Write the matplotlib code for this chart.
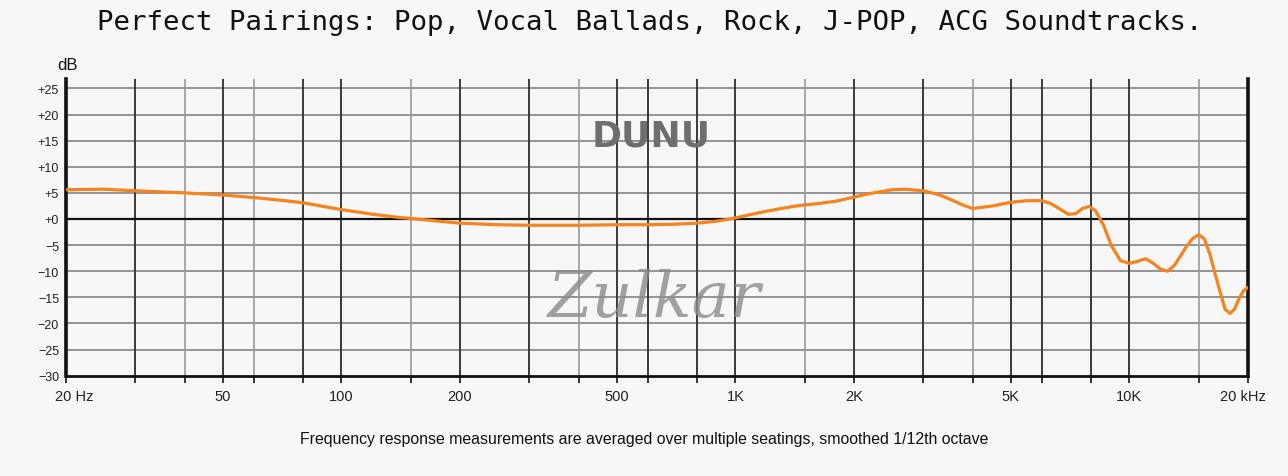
import matplotlib
matplotlib.use("Agg")
import matplotlib.pyplot as plt
import matplotlib.transforms as mtransforms

# frequency response (Hz, dB)
freq = [20, 25, 30, 40, 50, 60, 70, 80, 90, 100, 120, 140, 150, 170, 200, 250, 300, 400,
        500, 600, 700, 800, 900, 1000, 1100, 1200, 1400, 1500, 1600, 1800, 2000, 2200,
        2500, 2700, 3000, 3300, 3500, 3800, 4000, 4500, 5000, 5500, 6000, 6300, 6600,
        7000, 7300, 7600, 7900, 8200, 8600, 9000, 9500, 10000, 10500, 11000, 11500, 12000,
        12500, 13000, 13500, 14000, 14500, 15000, 15500, 16000, 16500, 17000, 17500,
        18000, 18500, 19000, 19500, 20000]
db = [5.6, 5.7, 5.4, 5.0, 4.6, 4.1, 3.6, 3.1, 2.4, 1.8, 0.9, 0.3, 0.1, -0.3, -0.8, -1.1,
      -1.2, -1.2, -1.1, -1.1, -1.0, -0.8, -0.4, 0.2, 0.9, 1.5, 2.4, 2.7, 2.9, 3.4, 4.2,
      4.9, 5.6, 5.7, 5.4, 4.6, 3.8, 2.6, 2.0, 2.5, 3.2, 3.5, 3.5, 3.0, 2.1, 0.9, 1.0,
      2.0, 2.4, 1.6, -1.2, -5.1, -8.0, -8.5, -8.1, -7.6, -8.5, -9.6, -10.0, -8.9, -7.0,
      -5.1, -3.7, -3.0, -3.8, -6.7, -10.5, -14.0, -17.3, -18.1, -17.2, -15.2, -13.7, -13.1]

# vertical grid lines; light ones drawn fainter
grid_freqs = [20, 30, 40, 50, 60, 80, 100, 150, 200, 300, 400, 500, 600, 800, 1000,
              1500, 2000, 3000, 4000, 5000, 6000, 8000, 10000, 15000, 20000]
light_freqs = [40, 60, 150, 400, 1500, 4000, 15000]

x_tick_freqs = [20, 50, 100, 200, 500, 1000, 2000, 5000, 10000, 20000]
x_tick_labels = ["20 Hz", "50", "100", "200", "500", "1K", "2K", "5K", "10K", "20 kHz"]

y_ticks = [25, 20, 15, 10, 5, 0, -5, -10, -15, -20, -25, -30]
y_tick_labels = ["+25", "+20", "+15", "+10", "+5", "+0", "\u22125", "\u221210",
                 "\u221215", "\u221220", "\u221225", "\u221230"]

title = "Perfect Pairings: Pop, Vocal Ballads, Rock, J-POP, ACG Soundtracks."
note = "Frequency response measurements are averaged over multiple seatings, smoothed 1/12th octave"

bg = "#f7f7f7"
orange = "#f5841e"

fig = plt.figure(figsize=(12.88, 4.77), dpi=100, facecolor=bg)
ax = fig.add_axes([66 / 1288, 1 - 376.7 / 477, (1248 - 66) / 1288, (376.7 - 80) / 477])
ax.set_facecolor(bg)
ax.set_xscale("log")
ax.set_xlim(20, 20000)
ax.set_ylim(-30, 26.8)

# horizontal grid
for y in y_ticks:
    if y == 0:
        ax.axhline(y, color="#111111", lw=1.6, zorder=2)
    elif y != -30:
        ax.axhline(y, color="#8c8c8c", lw=1.3, zorder=1)

# vertical grid
for f in grid_freqs[1:-1]:
    if f in light_freqs:
        ax.axvline(f, color="#9a9a9a", lw=1.2, zorder=1)
    else:
        ax.axvline(f, color="#3a3a3a", lw=1.4, zorder=1)

ax.spines["top"].set_visible(False)
ax.spines["left"].set_linewidth(2.6)
ax.spines["right"].set_linewidth(2.6)
ax.spines["bottom"].set_linewidth(2.0)
for side in ["left", "right", "bottom"]:
    ax.spines[side].set_color("#111111")

ax.set_xticks(grid_freqs)
ax.set_xticklabels([])
ax.xaxis.set_minor_locator(matplotlib.ticker.NullLocator())
ax.tick_params(axis="x", which="major", length=5, width=1.4, color="#333333", direction="out")

ax.set_yticks(y_ticks)
ax.set_yticklabels(y_tick_labels, fontsize=9, family="Liberation Sans", color="#222222")
ax.tick_params(axis="y", length=0, pad=5)

# x labels under the axis
for f, lab in zip(x_tick_freqs, x_tick_labels):
    dx = 0
    if lab == "20 Hz":
        dx = 8
    elif lab == "20 kHz":
        dx = -5
    ax.annotate(lab, xy=(f, 0), xycoords=mtransforms.blended_transform_factory(ax.transData, ax.transAxes),
                xytext=(dx, -20), textcoords="offset pixels", ha="center", va="center",
                fontsize=10.5, family="Liberation Sans", color="#222222")

ax.plot(freq, db, color=orange, lw=2.3, zorder=4, solid_capstyle="round")

# watermarks
ax.text(0.495, 0.81, "DUNU", transform=ax.transAxes, ha="center", va="center",
        fontsize=26, fontweight="heavy", color="#6e6e6e", family="DejaVu Sans", zorder=3)
ax.text(0.498, 0.26, "Zulkar", transform=ax.transAxes, ha="center", va="center",
        fontsize=46, style="italic", color="#8a8a8a", alpha=0.8, family="DejaVu Serif", zorder=3)

fig.text(67 / 1288, 1 - 66 / 477, "dB", ha="center", va="center", fontsize=12,
         family="Liberation Sans", color="#111111")
fig.text(650 / 1288, 1 - 23 / 477, title, ha="center", va="center", fontsize=19.7,
         family="DejaVu Sans Mono", color="#111111")
fig.text(644 / 1288, 1 - 440 / 477, note, ha="center", va="center", fontsize=11.45,
         family="Liberation Sans", color="#111111")

fig.savefig("out.png", dpi=100, facecolor=bg)
